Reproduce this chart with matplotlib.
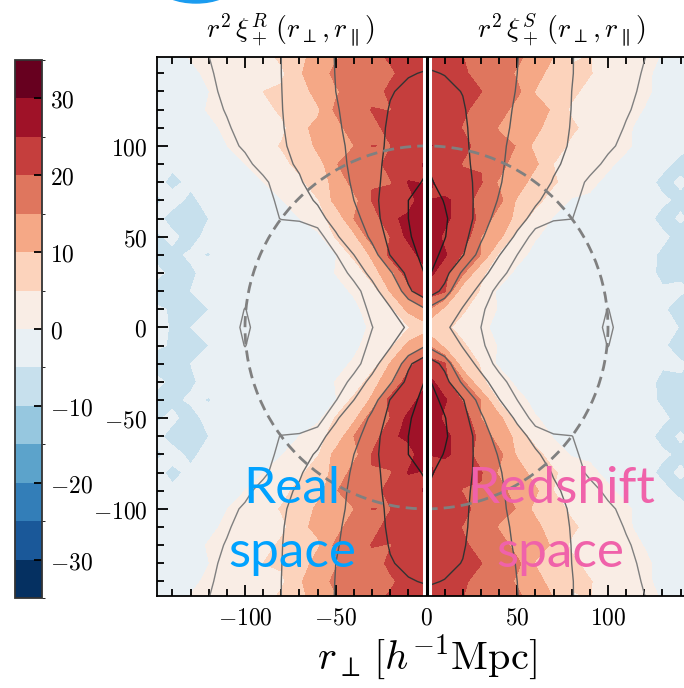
import numpy as np
import matplotlib
matplotlib.use("Agg")
import matplotlib.pyplot as plt
from matplotlib.colors import ListedColormap, BoundaryNorm
from matplotlib.ticker import MultipleLocator, FuncFormatter
from matplotlib.patches import Circle, Ellipse

plt.rcParams['mathtext.fontset'] = 'cm'

# grid of one quadrant: |r_perp| (columns) and |r_par| (rows), h^-1 Mpc
r_abs = [0, 10, 20, 30, 40, 50, 60, 70, 80, 90, 100, 110, 120, 130, 140, 150]

# smooth model r^2 xi_+ in real space (quadrant, mirrored in r_par) -> contour lines
model_real = [
    [8.0, 5.5, 3.2, 0.9, -1.5, -2.3, -2.6, -2.8, -2.8, -2.5, 2.5, -2.8, -4.0, -4.5, -5.5, -4.0],
    [15.0, 10.0, 4.5, 1.8, -1.0, -2.2, -2.6, -2.8, -2.8, -2.4, 1.2, -2.8, -4.2, -5.6, -4.5, -4.8],
    [24.0, 19.0, 8.3, 3.1, -0.3, -1.8, -2.4, -2.7, -2.8, -2.5, -1.8, -2.9, -4.4, -4.0, -5.8, -5.0],
    [25.5, 21.7, 14.2, 6.4, 2.1, -1.0, -2.2, -2.6, -2.8, -2.6, -2.2, -3.0, -4.5, -5.6, -4.8, -5.2],
    [26.5, 23.5, 20.2, 12.5, 5.0, 0.8, -1.5, -2.4, -2.7, -2.7, -2.5, -3.2, -4.6, -5.2, -5.7, -4.5],
    [28.0, 24.4, 21.5, 16.4, 10.0, 4.0, -0.6, -1.8, -2.3, -2.5, -2.6, -3.3, -4.5, -5.5, -4.8, -5.6],
    [27.5, 25.0, 22.1, 18.3, 13.0, 7.8, 2.7, 1.5, 1.2, -0.8, -2.2, -3.2, -4.5, -5.3, -5.6, -4.6],
    [26.5, 25.0, 22.1, 18.8, 15.0, 10.0, 5.8, 2.5, 1.5, 0.2, -2.0, -3.0, -4.4, -5.2, -4.6, -5.5],
    [25.5, 23.8, 21.4, 18.8, 15.9, 11.8, 7.7, 4.4, 2.4, 0.4, -1.2, -2.8, -4.2, -4.8, -5.4, -4.5],
    [24.5, 23.0, 21.0, 18.8, 16.3, 12.9, 9.0, 5.7, 3.7, 2.0, 0.3, -1.5, -3.5, -4.5, -5.0, -4.2],
    [24.0, 22.3, 20.7, 18.6, 16.4, 13.5, 9.7, 6.6, 4.3, 2.9, 1.4, 0.2, -2.0, -3.5, -4.4, -4.0],
    [23.5, 22.0, 20.5, 18.6, 16.6, 14.2, 10.3, 7.2, 4.6, 3.3, 2.0, 0.7, -1.2, -3.0, -4.0, -4.2],
    [22.0, 21.4, 20.2, 18.4, 16.7, 14.6, 10.8, 7.5, 4.8, 3.6, 2.4, 1.2, 0.1, -2.0, -3.4, -4.0],
    [21.0, 20.6, 19.8, 18.2, 16.7, 15.0, 11.2, 7.8, 4.9, 3.8, 2.3, 1.6, 0.4, -1.5, -3.0, -3.8],
    [20.2, 19.8, 19.0, 17.8, 16.6, 15.2, 11.5, 8.1, 5.0, 3.9, 2.8, 1.8, 0.7, -1.0, -2.8, -3.6],
    [19.0, 18.8, 18.5, 17.5, 16.5, 15.3, 11.9, 8.3, 5.0, 4.0, 3.0, 2.0, 1.0, 0.1, -1.5, -3.0],
]

resid_real = [
    [0.5, -1.0, 1.5, -0.5, 0.5, 0.0, 0.0, 0.0, 0.0, 0.0, -3.5, 0.0, 0.5, -0.5, 0.0, 0.8],
    [-1.0, 1.5, -1.0, 1.5, -0.8, 0.5, 0.0, 0.0, 0.0, 0.0, -1.5, 0.0, -0.8, 0.6, -0.6, 0.0],
    [1.5, -1.5, 2.0, -1.0, 1.2, -0.5, 0.0, 0.0, 0.0, 0.0, 0.0, 0.4, 0.0, -1.0, 0.6, -0.5],
    [-1.5, 2.0, -1.5, 1.8, -1.5, 1.2, -0.4, 0.0, 0.0, 0.0, 0.0, 0.0, 0.8, 0.0, -0.6, 0.7],
    [2.0, -1.5, 1.8, -1.8, 1.5, -1.0, 0.8, 0.0, 0.0, 0.0, 0.0, -0.4, -0.6, 0.7, 0.0, -0.8],
    [1.0, 2.0, -1.5, 2.0, -1.5, 1.5, -1.0, 0.5, 0.0, 0.0, 0.0, 0.0, 0.6, -0.8, 0.5, 0.0],
    [-1.5, 1.0, 2.0, -1.5, 2.0, -1.5, 1.2, -1.5, -2.0, 0.0, 0.0, 0.4, -0.5, 0.0, -0.6, 0.8],
    [2.0, -2.0, 1.0, 1.5, -1.8, 1.8, -1.4, 1.0, -1.8, -1.0, 0.0, 0.0, 0.7, -0.6, 0.8, -0.5],
    [-1.0, 1.5, -2.0, 1.0, 1.5, -1.5, 1.8, -1.2, 0.8, -0.5, 0.0, 0.0, -0.4, 0.5, -0.4, 0.6],
    [1.5, -1.0, 1.5, -2.0, 1.0, 1.8, -1.5, 1.5, -1.0, 0.6, -0.3, 0.0, 0.5, -0.5, 0.6, -0.4],
    [-2.0, 2.0, -1.0, 1.5, -1.5, 1.0, 1.8, -1.5, 1.2, -0.8, 0.5, -0.3, 0.0, 0.6, -0.5, 0.5],
    [1.0, -1.5, 2.0, -1.0, 2.0, -1.8, 1.0, 1.5, -1.2, 1.0, -0.6, 0.5, -0.3, 0.0, 0.5, -0.5],
    [0.5, 1.0, -0.5, 2.0, -1.0, 1.5, -1.8, 1.0, 1.4, -1.0, 0.8, -0.6, 0.4, -0.3, 0.0, 0.4],
    [2.0, 0.5, 1.5, -1.0, 1.8, -1.0, 1.5, -1.5, 1.0, 1.2, -0.8, 0.7, -0.5, 0.4, -0.3, 0.0],
    [2.0, 2.5, 0.0, 1.5, -1.5, 2.0, -1.0, 1.8, -1.2, 0.8, 1.0, -0.7, 0.6, -0.5, 0.4, -0.3],
    [3.5, 1.5, 2.5, 1.0, 1.0, -1.5, 2.0, -1.0, 1.5, -1.0, 0.8, 0.6, -0.5, 0.5, -0.4, 0.3],
]

# smooth model r^2 xi_+ in redshift space
model_redshift = [
    [8.5, 5.8, 3.0, 1.0, -1.4, -2.2, -2.5, -2.7, -2.7, -2.4, 2.5, -2.6, -3.8, -4.2, -5.2, -5.8],
    [14.5, 9.6, 4.6, 1.6, -1.1, -2.1, -2.5, -2.7, -2.8, -2.5, 1.2, -2.7, -3.9, -4.6, -5.7, -5.0],
    [23.5, 18.5, 8.0, 3.3, -0.2, -1.9, -2.5, -2.7, -2.8, -2.6, -1.9, -2.8, -4.2, -5.4, -4.7, -5.9],
    [26.0, 22.0, 14.0, 6.8, 2.3, -0.8, -2.1, -2.5, -2.8, -2.7, -2.3, -3.1, -4.3, -4.8, -5.8, -5.2],
    [27.0, 24.0, 20.4, 12.8, 5.2, 1.0, -1.4, -2.3, -2.6, -2.7, -2.5, -3.0, -4.4, -5.6, -5.1, -5.7],
    [28.0, 25.2, 21.8, 16.0, 9.6, 3.8, -0.5, -1.7, -2.2, -2.4, -2.5, -3.2, -4.3, -5.0, -5.8, -4.9],
    [27.5, 25.5, 22.5, 18.0, 12.6, 7.5, 2.9, 1.4, 1.1, -0.8, -2.1, -3.0, -4.2, -5.6, -5.2, -5.8],
    [27.0, 24.8, 22.0, 18.5, 14.6, 10.2, 6.0, 2.3, 1.5, 0.2, -1.9, -2.9, -4.3, -4.9, -5.7, -5.1],
    [25.5, 24.2, 21.6, 18.6, 15.6, 11.6, 7.9, 4.6, 2.2, 0.5, -1.1, -2.7, -4.0, -5.3, -5.0, -5.6],
    [25.0, 23.2, 21.0, 18.6, 16.0, 12.6, 9.2, 5.9, 3.6, 1.9, 0.4, -1.4, -3.3, -4.4, -5.5, -5.2],
    [24.5, 22.6, 20.8, 18.4, 16.2, 13.2, 9.9, 6.8, 4.4, 2.8, 1.5, 0.3, -1.8, -3.6, -4.5, -5.3],
    [24.0, 22.2, 20.6, 18.4, 16.4, 14.0, 10.5, 7.3, 4.7, 3.4, 2.1, 0.8, -1.0, -2.8, -4.1, -4.9],
    [22.2, 21.6, 20.3, 18.4, 16.5, 14.4, 11.0, 7.6, 4.9, 3.7, 2.5, 1.3, 0.2, -1.8, -3.3, -4.4],
    [21.1, 20.7, 19.9, 18.2, 16.6, 14.8, 11.4, 7.9, 5.0, 3.9, 2.5, 1.7, 0.5, -1.3, -2.9, -4.0],
    [20.3, 19.9, 19.1, 17.8, 16.6, 15.0, 11.6, 8.2, 5.1, 4.0, 2.9, 1.9, 0.8, -0.9, -2.6, -3.8],
    [19.2, 18.9, 18.5, 17.5, 16.5, 15.2, 12.0, 8.4, 5.1, 4.1, 3.1, 2.1, 1.1, 0.1, -1.4, -3.2],
]

# measured minus model, redshift space
resid_redshift = [
    [-0.5, 1.0, -1.0, 0.5, -0.5, 0.0, 0.0, 0.0, 0.0, 0.0, -3.5, 0.0, -0.6, 0.5, 0.0, -0.5],
    [1.5, -1.0, 1.5, -1.0, 1.0, -0.5, 0.0, 0.0, 0.0, 0.0, -1.5, -0.4, 0.6, 0.0, -0.5, 0.6],
    [-1.0, 2.0, -1.5, 1.5, -1.0, 0.8, 0.0, 0.0, 0.0, 0.0, 0.0, 0.0, -0.5, 0.6, 0.0, 0.5],
    [2.0, -1.0, 2.0, -1.5, 1.8, -1.0, 0.5, 0.0, 0.0, 0.0, 0.0, 0.4, 0.0, -0.6, 0.5, -0.4],
    [-1.0, 1.8, -1.0, 2.0, -1.2, 1.5, -0.8, 0.3, 0.0, 0.0, 0.0, 0.0, 0.6, 0.0, -0.5, 0.5],
    [2.0, -1.5, 1.5, -1.0, 2.0, -1.5, 1.0, -0.5, 0.0, 0.0, 0.0, -0.4, 0.0, 0.7, -0.4, 0.0],
    [1.0, 1.5, -2.0, 1.8, -1.0, 1.8, -1.2, -1.6, -1.9, 0.0, 0.0, 0.0, 0.5, -0.5, 0.6, -0.5],
    [-2.0, 1.0, 1.5, -1.5, 2.0, -1.0, 1.5, -1.0, -1.7, -1.0, 0.0, 0.3, -0.6, 0.5, 0.0, 0.4],
    [1.5, -2.0, 1.0, 1.8, -1.5, 2.0, -1.0, 1.4, -0.8, 0.5, 0.0, 0.0, 0.4, -0.6, 0.5, -0.4],
    [-1.0, 1.5, -1.5, 1.0, 2.0, -1.5, 1.8, -1.0, 1.2, -0.6, 0.4, 0.0, -0.5, 0.4, -0.5, 0.5],
    [2.0, -1.0, 2.0, -1.8, 1.0, 1.5, -1.5, 1.8, -1.0, 1.0, -0.5, 0.4, 0.0, -0.5, 0.6, -0.4],
    [-1.5, 2.0, -1.0, 1.5, -2.0, 1.0, 1.5, -1.2, 1.6, -0.8, 0.8, -0.5, 0.4, 0.0, -0.4, 0.5],
    [1.5, -0.5, 1.0, -1.0, 1.5, -2.0, 1.0, 1.8, -1.0, 1.2, -0.6, 0.6, -0.4, 0.3, 0.0, -0.4],
    [1.0, 1.5, 0.5, 2.0, -1.0, 1.5, -1.8, 1.0, 1.5, -1.0, 1.0, -0.5, 0.6, -0.4, 0.3, 0.0],
    [2.5, 1.0, 2.0, -0.5, 2.0, -1.0, 1.5, -1.5, 1.0, 1.4, -0.8, 0.8, -0.5, 0.5, -0.3, 0.3],
    [2.8, 2.5, 1.5, 1.5, -1.0, 2.0, -1.0, 1.8, -1.2, 1.0, 1.0, -0.6, 0.6, -0.4, 0.4, -0.3],
]

fill_levels = np.arange(-35, 36, 5)
line_levels = [1.0, 5, 15, 20, 25]
line_colors = ['0.5', '0.42', '0.35', '0.2', '0.12']
cbar_ticks = [-30, -20, -10, 0, 10, 20, 30]
x_ticks = [-100, -50, 0, 50, 100]
y_ticks = [-100, -50, 0, 50, 100]
bao_radius = 100


def mirror_rows(q):
    q = np.array(q)
    return np.vstack([q[:0:-1], q])


r = np.array(r_abs)
y_full = np.concatenate([-r[:0:-1], r])

colors = plt.cm.RdBu_r(np.linspace(0, 1, len(fill_levels) - 1))
cmap = ListedColormap(colors)
norm = BoundaryNorm(fill_levels, cmap.N)

fig = plt.figure(figsize=(6.84, 6.88), dpi=100)
W, H = 684, 688
ax = fig.add_axes([157 / W, (H - 596) / H, 539 / W, 539 / H])
cax = fig.add_axes([15 / W, (H - 598) / H, 27 / W, 538 / H])

# left half: real space
Xr = -r[::-1]
Mr = mirror_rows(model_real)[:, ::-1]
Dr = Mr + mirror_rows(resid_real)[:, ::-1]
cf = ax.contourf(Xr, y_full, Dr, levels=fill_levels, cmap=cmap, norm=norm)
ax.contour(Xr, y_full, Mr, levels=line_levels, colors=line_colors, linewidths=1.0)

# right half: redshift space
Ms = mirror_rows(model_redshift)
Ds = Ms + mirror_rows(resid_redshift)
ax.contourf(r, y_full, Ds, levels=fill_levels, cmap=cmap, norm=norm)
ax.contour(r, y_full, Ms, levels=line_levels, colors=line_colors, linewidths=1.0)

ax.add_patch(Circle((0, 0), bao_radius, fill=False, ec='0.5', lw=2.0,
                    ls=(0, (4, 2.2)), zorder=4))
ax.axvline(0, color='white', lw=6.5, zorder=5)
ax.axvline(0, color='black', lw=2.2, zorder=6)

ax.set_xlim(-148.5, 148.5)
ax.set_ylim(-148, 149)
ax.set_xticks(x_ticks)
ax.set_yticks(y_ticks)
ax.xaxis.set_minor_locator(MultipleLocator(10))
ax.yaxis.set_minor_locator(MultipleLocator(10))
fmt = FuncFormatter(lambda v, p: f'${v:.0f}$')
ax.xaxis.set_major_formatter(fmt)
ax.yaxis.set_major_formatter(fmt)
ax.tick_params(which='both', direction='in', top=True, right=True, width=1.3,
               labelsize=17, zorder=7)
ax.tick_params(which='major', length=8, pad=7)
ax.tick_params(which='minor', length=5)
for s in ax.spines.values():
    s.set_linewidth(1.3)
    s.set_zorder(8)
ax.set_xlabel(r'$r_\perp\,[h^{-1}\mathrm{Mpc}]$', fontsize=29, labelpad=2)

ax.text(-74, -97, 'Real', color='#00a2ff', fontsize=37, family='Lato',
        ha='center', va='baseline', zorder=9)
ax.text(-74, -132, 'space', color='#00a2ff', fontsize=37, family='Lato',
        ha='center', va='baseline', zorder=9)
ax.text(74, -97, 'Redshift', color='#f062aa', fontsize=37, family='Lato',
        ha='center', va='baseline', zorder=9)
ax.text(74, -132, 'space', color='#f062aa', fontsize=37, family='Lato',
        ha='center', va='baseline', zorder=9)

fig.text(291 / W, 1 - 30 / H, r'$r^2\,\xi_+^R\,(r_\perp, r_\parallel)$',
         fontsize=20, ha='center', va='center')
fig.text(562 / W, 1 - 30 / H, r'$r^2\,\xi_+^S\,(r_\perp, r_\parallel)$',
         fontsize=20, ha='center', va='center')

cb = fig.colorbar(cf, cax=cax, ticks=cbar_ticks)
cb.ax.yaxis.set_major_formatter(fmt)
cb.ax.tick_params(direction='in', length=6, width=1.3, labelsize=17, pad=6)
cb.outline.set_linewidth(1.3)
cb.outline.set_edgecolor('0.2')

fig.add_artist(Ellipse((196 / W, 1 + 12 / H), 70 / W, 30 / H,
                       color='#1a9cf0', transform=fig.transFigure))

fig.savefig('out.png', dpi=100)
